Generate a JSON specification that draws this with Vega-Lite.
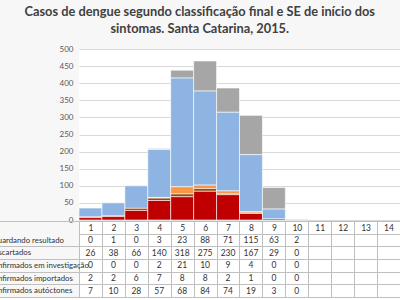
{
  "$schema": "https://vega.github.io/schema/vega-lite/v6.json",
  "background": "#f7f7f7",
  "padding": {"left": -17, "top": 5, "right": 0, "bottom": 0},
  "title": {
    "text": ["Casos de dengue segundo classificação final e SE de início dos", "sintomas. Santa Catarina, 2015."],
    "font": "Lato", "fontSize": 12.8, "fontWeight": "bold", "color": "#404040",
    "lineHeight": 17.5, "anchor": "middle", "offset": 9, "dx": 8
  },
  "datasets": {
    "cases": [
      {"week": 1, "cls": "Aguardando resultado", "n": 0},
      {"week": 1, "cls": "Descartados", "n": 26},
      {"week": 1, "cls": "Confirmados em investigação", "n": 0},
      {"week": 1, "cls": "Confirmados importados", "n": 2},
      {"week": 1, "cls": "Confirmados autóctones", "n": 7},
      {"week": 2, "cls": "Aguardando resultado", "n": 1},
      {"week": 2, "cls": "Descartados", "n": 38},
      {"week": 2, "cls": "Confirmados em investigação", "n": 0},
      {"week": 2, "cls": "Confirmados importados", "n": 2},
      {"week": 2, "cls": "Confirmados autóctones", "n": 10},
      {"week": 3, "cls": "Aguardando resultado", "n": 0},
      {"week": 3, "cls": "Descartados", "n": 66},
      {"week": 3, "cls": "Confirmados em investigação", "n": 0},
      {"week": 3, "cls": "Confirmados importados", "n": 6},
      {"week": 3, "cls": "Confirmados autóctones", "n": 28},
      {"week": 4, "cls": "Aguardando resultado", "n": 3},
      {"week": 4, "cls": "Descartados", "n": 140},
      {"week": 4, "cls": "Confirmados em investigação", "n": 2},
      {"week": 4, "cls": "Confirmados importados", "n": 7},
      {"week": 4, "cls": "Confirmados autóctones", "n": 57},
      {"week": 5, "cls": "Aguardando resultado", "n": 23},
      {"week": 5, "cls": "Descartados", "n": 318},
      {"week": 5, "cls": "Confirmados em investigação", "n": 21},
      {"week": 5, "cls": "Confirmados importados", "n": 8},
      {"week": 5, "cls": "Confirmados autóctones", "n": 68},
      {"week": 6, "cls": "Aguardando resultado", "n": 88},
      {"week": 6, "cls": "Descartados", "n": 275},
      {"week": 6, "cls": "Confirmados em investigação", "n": 10},
      {"week": 6, "cls": "Confirmados importados", "n": 8},
      {"week": 6, "cls": "Confirmados autóctones", "n": 84},
      {"week": 7, "cls": "Aguardando resultado", "n": 71},
      {"week": 7, "cls": "Descartados", "n": 230},
      {"week": 7, "cls": "Confirmados em investigação", "n": 9},
      {"week": 7, "cls": "Confirmados importados", "n": 2},
      {"week": 7, "cls": "Confirmados autóctones", "n": 74},
      {"week": 8, "cls": "Aguardando resultado", "n": 115},
      {"week": 8, "cls": "Descartados", "n": 167},
      {"week": 8, "cls": "Confirmados em investigação", "n": 4},
      {"week": 8, "cls": "Confirmados importados", "n": 1},
      {"week": 8, "cls": "Confirmados autóctones", "n": 19},
      {"week": 9, "cls": "Aguardando resultado", "n": 63},
      {"week": 9, "cls": "Descartados", "n": 29},
      {"week": 9, "cls": "Confirmados em investigação", "n": 0},
      {"week": 9, "cls": "Confirmados importados", "n": 0},
      {"week": 9, "cls": "Confirmados autóctones", "n": 3},
      {"week": 10, "cls": "Aguardando resultado", "n": 2},
      {"week": 10, "cls": "Descartados", "n": 0},
      {"week": 10, "cls": "Confirmados em investigação", "n": 0},
      {"week": 10, "cls": "Confirmados importados", "n": 0},
      {"week": 10, "cls": "Confirmados autóctones", "n": 0}
    ]
  },
  "config": {"font": "Lato", "view": {"fill": "white"}},
  "spacing": 1,
  "bounds": "flush",
  "vconcat": [
    {
      "width": 321,
      "height": 171,
      "view": {"stroke": null, "fill": "white"},
      "data": {"name": "cases"},
      "transform": [
        {"filter": "datum.n > 0"},
        {"calculate": "indexof(['Confirmados autóctones', 'Confirmados importados', 'Confirmados em investigação', 'Descartados', 'Aguardando resultado'], datum.cls)", "as": "ord"}
      ],
      "mark": {"type": "bar", "stroke": "white", "strokeWidth": 0.6},
      "encoding": {
        "x": {
          "field": "week", "type": "ordinal",
          "scale": {"domain": [1, 2, 3, 4, 5, 6, 7, 8, 9, 10, 11, 12, 13, 14], "paddingInner": 0, "paddingOuter": 0},
          "axis": null
        },
        "y": {
          "field": "n", "type": "quantitative", "stack": "zero",
          "scale": {"domain": [0, 500]},
          "axis": {
            "values": [0, 50, 100, 150, 200, 250, 300, 350, 400, 450, 500],
            "title": null, "domain": false, "ticks": false,
            "labelFontSize": 8, "labelColor": "#595959", "labelPadding": 6,
            "gridColor": "#d9d9d9"
          }
        },
        "order": {"field": "ord", "type": "quantitative", "sort": "ascending"},
        "color": {
          "field": "cls", "type": "nominal",
          "scale": {
            "domain": ["Confirmados autóctones", "Confirmados importados", "Confirmados em investigação", "Descartados", "Aguardando resultado"],
            "range": ["#C00000", "#984807", "#F79646", "#8DB4E2", "#A6A6A6"]
          },
          "legend": null
        }
      }
    },
    {
      "width": 321,
      "height": 76,
      "view": {"stroke": "#bfbfbf", "fill": "white"},
      "data": {"name": "cases"},
      "mark": {"type": "text", "fontSize": 8.5, "fill": "#333333"},
      "encoding": {
        "x": {
          "field": "week", "type": "ordinal",
          "scale": {"domain": [1, 2, 3, 4, 5, 6, 7, 8, 9, 10, 11, 12, 13, 14], "paddingInner": 0, "paddingOuter": 0},
          "axis": {
            "orient": "top", "title": null, "domain": false, "ticks": false,
            "grid": true, "tickBand": "extent", "gridColor": "#bfbfbf",
            "labelPadding": -6.35, "labelBaseline": "middle", "labelAngle": 0,
            "labelFontSize": 8.5, "labelColor": "#333333"
          }
        },
        "y": {
          "field": "cls", "type": "nominal",
          "scale": {
            "domain": ["Semana", "Aguardando resultado", "Descartados", "Confirmados em investigação", "Confirmados importados", "Confirmados autóctones"],
            "paddingInner": 0, "paddingOuter": 0
          },
          "axis": {
            "title": null, "domain": false, "grid": true, "tickBand": "extent",
            "tickSize": 95,
            "tickColor": {"condition": {"test": "datum.value === 'Semana'", "value": "transparent"}, "value": "#bfbfbf"},
            "gridColor": "#bfbfbf",
            "labelAlign": "left", "labelPadding": -4,
            "labelExpr": "datum.value === 'Semana' ? '' : datum.value",
            "labelFontSize": 7.8, "labelColor": "#333333"
          }
        },
        "text": {"field": "n", "type": "quantitative"}
      }
    }
  ]
}
